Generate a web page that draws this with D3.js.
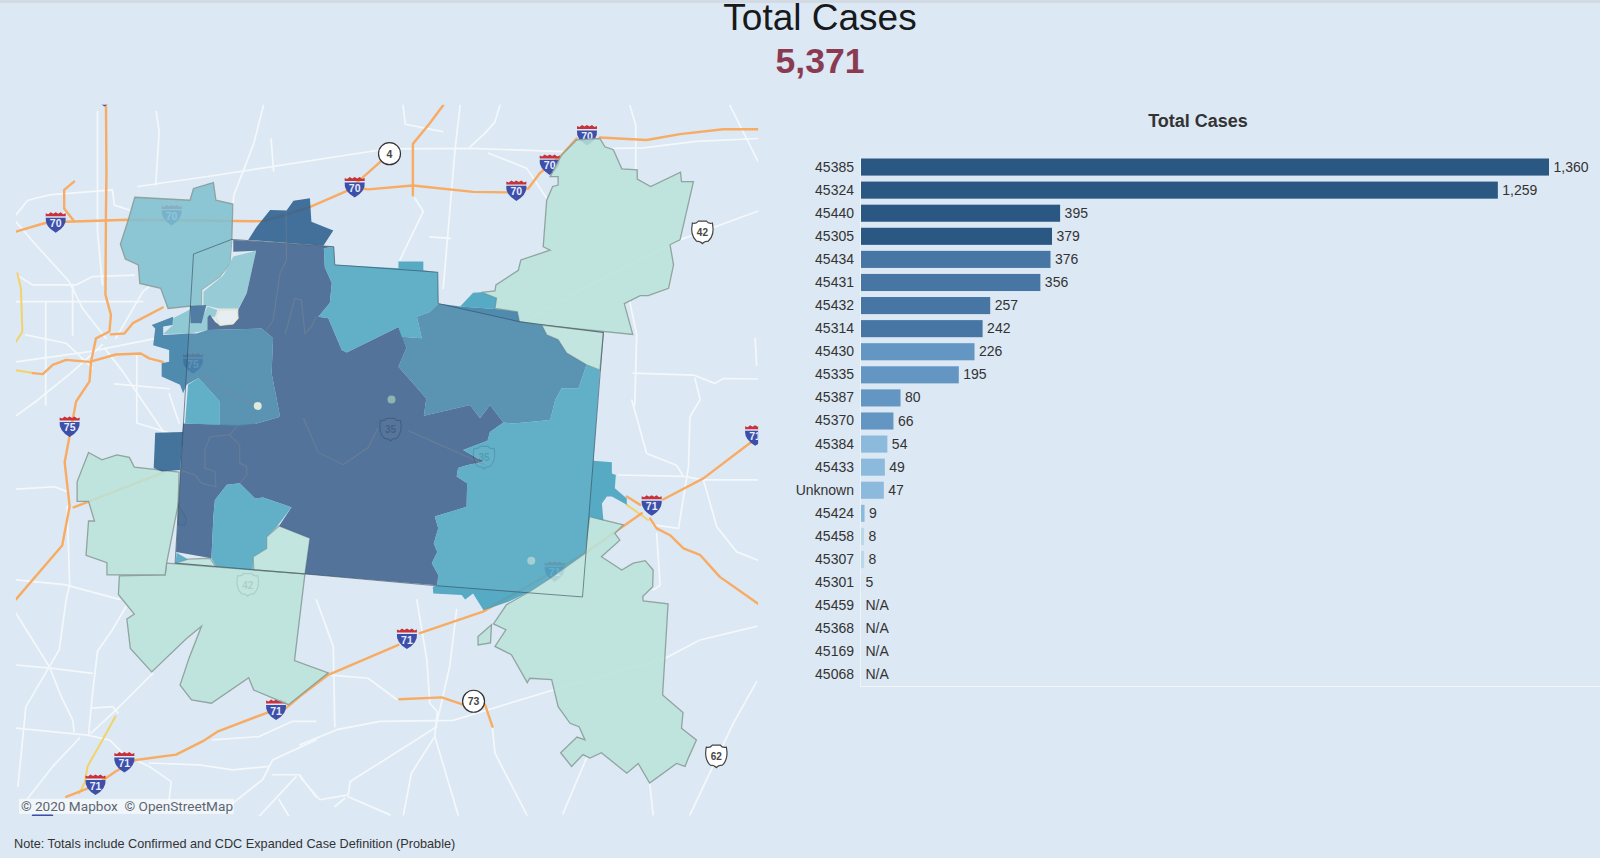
<!DOCTYPE html>
<html><head><meta charset="utf-8">
<script src="https://cdn.jsdelivr.net/npm/d3@7"></script>
<style>
html,body{margin:0;padding:0;background:#dce8f3;overflow:hidden}
svg{display:block}
text{font-family:"Liberation Sans",Arial,sans-serif}
</style></head><body>
<svg id="c" width="1600" height="858"></svg>
<script>
// ---- bar chart data ----
const zipCodes=["45385","45324","45440","45305","45434","45431","45432","45314","45430","45335","45387","45370","45384","45433","Unknown","45424","45458","45307","45301","45459","45368","45169","45068"];
const totalCases=[1360,1259,395,379,376,356,257,242,226,195,80,66,54,49,47,9,8,8,5,null,null,null,null];
const colourBand=[0,0,0,0,1,1,1,1,2,2,2,2,3,3,3,3,4,4,5,5,5,5,5];
const bandColours=["#2b5883","#4776a5","#6496c3","#8bbadd","#bbd8eb","#d5e6f1"];
const headline="Total Cases";
const headlineValue="5,371";
const barTitle="Total Cases";
const note="Note: Totals include Confirmed and CDC Expanded Case Definition (Probable)";
const attribution="© 2020 Mapbox  © OpenStreetMap";

// ---- map data, in map units ----
const zoneColours={mint:"#b9e2d9",light:"#81bfcf",light2:"#85c3ce",teal:"#44a0bc",mid:"#3b7da4",deep:"#325785",top:"#2d5f8d",west:"#2f628f"};
const zones=[
 ["mint",[[1129,133],[1159,102],[1206,99],[1216,116],[1233,122],[1250,161],[1281,163],[1281,182],[1308,197],[1368,168],[1370,187],[1394,187],[1367,306],[1347,316],[1354,357],[1344,405],[1303,420],[1287,420],[1255,436],[1272,499],[1089,480],[1044,473],[1040,453],[995,446],[998,425],[968,413],[995,410],[997,398],[1042,368],[1047,347],[1106,327],[1092,320],[1099,225],[1111,197],[1122,194],[1122,177],[1106,177],[1122,146]]],
 ["mint",[[1089,480],[1213,495],[1206,572],[1179,561],[1139,537],[1122,510],[1099,500]]],
 ["mint",[[1018,1051],[1065,1024],[1106,997],[1176,946],[1185,871],[1253,888],[1236,905],[1246,919],[1209,953],[1250,980],[1273,966],[1297,961],[1313,980],[1312,1014],[1292,1034],[1293,1043],[1343,1049],[1332,1235],[1373,1271],[1370,1303],[1400,1327],[1385,1361],[1377,1381],[1360,1375],[1306,1415],[1283,1375],[1260,1395],[1209,1353],[1186,1364],[1172,1357],[1149,1381],[1127,1353],[1160,1321],[1176,1327],[1164,1300],[1146,1293],[1122,1259],[1109,1204],[1065,1201],[1060,1210],[1028,1153],[995,1136],[1017,1102],[992,1090]]],
 ["mint",[[988,1092],[986,1129],[961,1133],[961,1116]]],
 ["mint",[[335,966],[613,988],[592,1165],[660,1190],[580,1255],[510,1225],[500,1200],[425,1252],[385,1245],[362,1215],[380,1160],[405,1095],[375,1120],[305,1188],[262,1140],[255,1080],[270,1070],[238,1030],[240,992],[332,990]]],
 ["mint",[[178,740],[205,755],[235,745],[260,750],[270,770],[360,780],[358,847],[335,966],[332,990],[215,990],[215,965],[173,950],[178,880],[190,880],[178,840],[155,840],[155,800]]],
 ["mint",[[358,847],[375,875],[372,888],[358,888]]],
 ["mint",[[561,890],[623,915],[613,988],[510,980],[509,953],[536,936],[536,912]]],
 ["mint",[[378,958],[422,956],[434,973],[353,966]]],
 ["light",[[271,219],[382,225],[389,201],[429,189],[434,225],[468,233],[466,305],[462,354],[442,381],[405,408],[405,439],[338,446],[323,405],[281,395],[278,357],[252,345],[242,315],[258,265]]],
 ["light2",[[389,335],[466,305],[462,354],[442,381],[405,408],[405,439],[385,441]]],
 ["light2",[[469,340],[515,328],[496,415],[479,446],[439,446],[409,439],[409,412],[449,378]]],
 ["light2",[[328,498],[348,480],[348,466],[382,448],[383,476],[402,476],[417,442],[437,449],[432,463],[417,463],[417,490],[382,497]]],
 ["top",[[499,306],[516,279],[543,245],[576,246],[590,226],[623,221],[626,269],[670,287],[650,318]]],
 ["deep",[[469,306],[671,320],[651,323],[653,362],[667,394],[663,435],[640,463],[660,466],[687,531],[697,536],[801,484],[817,527],[801,565],[857,630],[852,665],[945,643],[965,670],[985,643],[1012,679],[985,698],[980,716],[931,735],[972,759],[938,766],[921,772],[918,789],[939,803],[938,851],[874,871],[881,895],[872,926],[879,943],[868,966],[881,990],[879,1011],[613,988],[623,915],[561,890],[586,852],[529,832],[513,834],[482,803],[456,806],[432,837],[429,871],[425,956],[354,943],[368,681],[479,684],[516,681],[563,667],[546,578],[549,507],[526,487],[417,490],[417,464],[422,459],[432,473],[442,481],[469,478],[479,466],[479,448],[496,415],[515,328],[469,330]]],
 ["west",[[312,700],[368,698],[362,776],[325,779],[309,772]]],
 ["west",[[382,441],[415,439],[405,476],[383,476]]],
 ["mid",[[881,436],[925,442],[995,447],[1040,453],[1044,473],[1089,480],[1099,500],[1122,510],[1139,537],[1179,561],[1163,609],[1129,609],[1116,633],[1106,674],[1032,681],[1012,679],[985,643],[965,670],[945,643],[852,665],[857,630],[801,565],[817,527],[807,504],[848,507],[838,463],[864,453]]],
 ["mid",[[305,480],[348,463],[347,480],[328,483],[328,500],[382,497],[395,497],[417,490],[526,487],[549,507],[546,578],[563,667],[516,681],[479,687],[442,684],[442,636],[399,588],[375,602],[368,619],[362,602],[325,585],[325,558],[340,555],[340,531],[308,521],[312,487]]],
 ["teal",[[651,323],[671,320],[673,357],[801,364],[801,350],[851,350],[851,368],[880,372],[881,436],[864,453],[838,463],[848,507],[807,504],[801,484],[697,536],[687,531],[660,466],[640,463],[663,435],[667,394],[653,362]]],
 ["teal",[[1032,681],[1106,674],[1116,633],[1129,609],[1163,609],[1179,561],[1206,572],[1193,757],[1230,760],[1230,783],[1238,786],[1236,813],[1260,834],[1260,847],[1230,830],[1220,830],[1210,844],[1213,879],[1185,871],[1176,946],[1106,997],[1065,1024],[1022,1045],[972,1062],[951,1028],[935,1040],[928,1031],[871,1028],[870,1014],[879,1011],[881,990],[868,966],[879,943],[872,926],[881,895],[874,871],[938,851],[939,803],[918,789],[921,772],[938,766],[972,759],[931,735],[980,716],[985,698],[1012,679]]],
 ["teal",[[951,414],[968,413],[998,425],[995,447],[925,442]]],
 ["teal",[[432,837],[456,806],[482,803],[513,834],[529,832],[586,852],[556,892],[536,912],[536,936],[509,953],[508,980],[435,973],[425,956],[429,871]]],
 ["teal",[[399,588],[442,636],[442,684],[372,681],[378,602]]],
 ["teal",[[355,945],[378,958],[353,966]]]
];
const overlayRing=[[389,335],[466,305],[671,320],[673,357],[880,372],[881,436],[1044,473],[1213,495],[1171,1035],[864,1011],[613,988],[352,966]];
const holes=[[[434,463],[442,449],[476,449],[479,466],[469,478],[442,481]]];
const innerLines=[
 [[476,687],[462,704],[422,708],[412,735],[412,772],[432,779],[434,810],[405,803],[392,786],[362,776]],
 [[462,704],[482,725],[482,762],[496,769],[496,786],[482,803]],
 [[573,500],[593,425],[606,429],[613,497],[626,483],[636,463]],
 [[575,248],[576,347],[563,374],[549,470],[536,490]],
 [[405,585],[456,616],[516,645]],[[610,670],[640,740],[690,765],[740,730],[760,690]],[[820,695],[975,765]]
];
const dots=[[518,645,"#dfe9dc"],[787,632,"#8fb3ad"],[1068,961,"#a5cfd2"]];

const roadsOrange=[
 [[32,289],[89,272],[133,269],[257,265],[530,268],[620,240],[700,205],[783,130]],
 [[1524,80],[1454,80],[1367,90],[1300,102],[1206,97]],
 [[1159,99],[1129,133],[1085,170],[1062,201],[1018,209],[951,208],[830,195],[740,203],[700,198]],
 [[891,31],[864,68],[830,110],[830,215]],
 [[213,31],[214,167],[213,248],[212,418],[223,459],[220,493],[193,507],[183,555],[180,595],[153,636],[130,760],[140,850],[125,930],[32,1040]],
 [[223,499],[250,497],[267,476],[327,444]],
 [[66,578],[86,580],[106,561],[133,551],[180,555],[233,540],[283,538],[300,548],[327,555]],
 [[149,187],[129,204],[129,242],[149,268]],
 [[1511,718],[1414,793],[1333,836]],[[1260,830],[1287,847]],
 [[1290,864],[1176,946],[971,1065],[844,1109]],[[801,1133],[660,1194],[603,1238],[575,1262],[535,1272],[437,1310],[407,1330],[354,1357],[273,1368],[233,1391],[193,1419],[133,1443]],
 [[1307,875],[1320,895],[1347,909],[1374,936],[1407,949],[1447,994],[1524,1049]],
 [[803,1244],[888,1240],[931,1255]],[[975,1255],[990,1300]],
 [[148,852],[230,820],[330,780]]
];
const roadsYellow=[[[35,374],[42,405],[45,493],[32,514]],[[32,572],[66,578]],[[232,1279],[206,1327],[176,1381],[170,1415],[159,1436]],[[1260,847],[1303,878]]];
const roadsWhite=[
 [[32,255],[56,225],[99,214],[226,204],[230,235],[260,245]],[[277,197],[434,174],[780,120],[945,119],[1132,126]],
 [[1233,119],[1293,118],[1400,105],[1524,99]],[[945,116],[975,88],[995,65],[1005,31]],[[982,129],[1059,160],[1099,221]],
 [[925,31],[915,119],[891,405]],[[864,300],[905,303]],[[1266,31],[1278,71],[1278,163]],[[1467,31],[1524,146]],[[1524,247],[1367,306]],
 [[1266,432],[1280,500],[1276,643]],[[1273,578],[1394,582],[1437,599],[1454,589],[1524,590]],[[1397,589],[1407,630]],[[1518,507],[1521,562]],
 [[1270,633],[1300,742],[1360,766],[1374,789],[1414,796],[1524,796]],[[1243,786],[1374,789]],[[1407,633],[1387,667],[1384,769],[1364,895]],
 [[1414,796],[1441,892],[1481,943],[1524,960]],[[1320,905],[1327,1011],[1313,1021]],[[1313,888],[1364,895]],
 [[660,1194],[740,1201],[797,1244]],[[838,1041],[858,1163],[864,1252],[879,1269],[874,1320],[827,1395],[811,1480]],[[918,1061],[904,1177],[878,1293]],
 [[636,1041],[670,1136],[673,1300]],[[603,1337],[677,1306],[764,1289],[911,1287],[1112,1225],[1337,1160],[1407,1123],[1521,1095]],
 [[1521,1208],[1474,1293],[1387,1480]],[[990,1303],[995,1354],[1059,1480]],[[874,1320],[921,1480]],[[878,1300],[704,1412],[700,1439],[643,1449],[603,1402]],
 [[700,1443],[784,1480]],[[673,1463],[693,1446]],[[1179,1364],[1132,1477]],[[1306,1415],[1313,1480]],
 [[1367,306],[1200,390],[1060,470]],[[834,221],[851,248],[804,347]],[[530,30],[510,110],[470,215],[465,270]],[[545,100],[550,165]],[[810,30],[815,70],[890,85]],
 [[32,269],[72,316],[139,391],[166,446],[213,507]],[[39,381],[66,398],[153,398],[186,381],[270,378]],[[32,432],[287,432]],[[92,432],[92,643]],[[146,398],[146,500]],
 [[196,44],[196,289],[206,398]],[[314,44],[320,85],[313,194]],[[52,500],[133,517],[186,568]],[[32,555],[180,534],[313,507]],
 [[210,527],[247,575],[287,636],[330,700]],[[72,636],[146,575],[206,520]],[[233,507],[287,412],[327,378]],[[32,665],[72,636]],
 [[275,540],[275,680],[340,700]],[[230,600],[340,610]],[[340,620],[360,680]],[[32,815],[110,810],[135,820]],
 [[32,1000],[130,1010],[240,1040]],[[135,850],[140,1010],[133,1041],[119,1143],[52,1259],[36,1422]],
 [[253,1055],[226,1102],[196,1146],[186,1232],[178,1317]],[[307,1191],[233,1266],[183,1313]],[[32,1303],[176,1317],[220,1327],[247,1354]],
 [[32,1174],[106,1181],[186,1191]],[[32,1068],[99,1177],[123,1238],[146,1286],[149,1310]],[[186,1262],[227,1259],[237,1272]],[[160,1323],[106,1381],[56,1446]],
 [[273,1368],[300,1381],[344,1412],[340,1449]],[[300,1374],[401,1378],[468,1388],[541,1381]],[[635,1327],[548,1368],[528,1408],[468,1456]],
 [[427,1327],[521,1320],[588,1289],[635,1289]],[[548,1398],[602,1398],[635,1443]],[[595,1402],[521,1483]],[[561,1449],[581,1483]]
];
const blueFragment=[[[66,1481],[105,1481]]];
const interstates=[[112,270,"70"],[345,255,"70"],[713,198,"70"],[1038,205,"70"],[1105,152,"70"],[1180,92,"70"],[140,687,"75"],[388,558,"75"],[1310,848,"71"],[818,1120,"71"],[555,1265,"71"],[250,1372,"71"],[192,1418,"71"],[1518,705,"71"],[210,12,"70"],[1115,983,"71"]];
const usRoutes=[[1412,290,"42"],[498,1010,"42"],[1440,1360,"62"],[785,693,"35"],[973,750,"35"]];
const stateRoutes=[[783,130,"4"],[952,1248,"73"]];

const svg=d3.select("#c");
svg.append("rect").attr("width",1600).attr("height",3).attr("fill","#d2dbe3");

// titles
const centre=820;
svg.append("text").attr("x",centre).attr("y",30).attr("text-anchor","middle").attr("font-size",37).attr("fill","#17191c").text(headline);
svg.append("text").attr("x",centre).attr("y",73).attr("text-anchor","middle").attr("font-size",35.5).attr("font-weight",700).attr("fill","#8a3b52").text(headlineValue);
svg.append("text").attr("x",1198).attr("y",127).attr("text-anchor","middle").attr("font-size",18).attr("font-weight",700).attr("fill","#333").text(barTitle);
svg.append("text").attr("x",14).attr("y",848).attr("font-size",12.7).attr("fill","#333").text(note);

// ---- map ----
const mx=d3.scaleLinear().domain([0,1568]).range([0,780]);
const my=d3.scaleLinear().domain([0,1568]).range([90,858]);
const line=d3.line().x(d=>mx(d[0])).y(d=>my(d[1]));
const ring=d=>line(d)+"Z";
svg.append("clipPath").attr("id","mapclip").append("rect").attr("x",mx(32)).attr("y",my(30)).attr("width",mx(1524)-mx(32)).attr("height",my(1482)-my(30));
const map=svg.append("g").attr("clip-path","url(#mapclip)");
const drawRoads=(rows,col,w)=>map.append("g").selectAll("path").data(rows).join("path").attr("d",line).attr("fill","none").attr("stroke",col).attr("stroke-width",w).attr("stroke-linejoin","round").attr("stroke-linecap","round");
drawRoads(roadsWhite,"#f4f8fb",1.7);
drawRoads(roadsYellow,"#f2d26a",2);
drawRoads(roadsOrange,"#f8ab63",2.4);
drawRoads(blueFragment,"#3d4fa8",2);

function shield(g,[x,y,t]){
 const a=g.append("g").attr("transform",`translate(${mx(x)},${my(y)})`);
 a.append("path").attr("d","M-10,-6L-10,-9L-7.5,-8L-5,-10L-2.5,-8.5L0,-10L2.5,-8.5L5,-10L7.5,-8L10,-9L10,-6Z").attr("fill","#c9323a");
 a.append("path").attr("d","M-10,-4.6L10,-4.6Q11,4 0,10.5Q-11,4 -10,-4.6Z").attr("fill","#3d4fa8");
 a.append("text").attr("y",5).attr("text-anchor","middle").attr("font-size",10.5).attr("font-weight",700).attr("fill","#e8ecff").text(t);
}
function usShield(g,[x,y,t]){
 const a=g.append("g").attr("transform",`translate(${mx(x)},${my(y)})`);
 a.append("path").attr("d","M-10,-9Q-6,-8 -4,-11L4,-11Q6,-8 10,-9Q12.5,3 6,9Q2,9 0,11.5Q-2,9 -6,9Q-12.5,3 -10,-9Z").attr("fill","#fff").attr("stroke","#444").attr("stroke-width",1.2);
 a.append("text").attr("y",4).attr("text-anchor","middle").attr("font-size",10).attr("font-weight",700).attr("fill","#444").text(t);
}
function circleRoute(g,[x,y,t]){
 const a=g.append("g").attr("transform",`translate(${mx(x)},${my(y)})`);
 a.append("circle").attr("r",11).attr("fill","#fff").attr("stroke","#333").attr("stroke-width",1.2);
 a.append("text").attr("y",4).attr("text-anchor","middle").attr("font-size",10.5).attr("font-weight",700).attr("fill","#444").text(t);
}
const markers=map.append("g");
interstates.forEach(d=>shield(markers,d));
usRoutes.forEach(d=>usShield(markers,d));
stateRoutes.forEach(d=>circleRoute(markers,d));

// choropleth
const zoneG=map.append("g");
zoneG.selectAll("path.zone").data(zones).join("path").attr("class","zone").attr("d",d=>ring(d[1])).attr("fill",d=>zoneColours[d[0]]).attr("fill-opacity",.88)
 .attr("stroke",d=>d[0]==="mint"||d[0]==="light"?"#8a9c98":"none").attr("stroke-width",1.3).attr("stroke-opacity",.9);
zoneG.selectAll("path.hole").data(holes).join("path").attr("class","hole").attr("d",ring).attr("fill","#e6edf2").attr("stroke","#e8dca8").attr("stroke-width",.8);
zoneG.selectAll("path.inner").data(innerLines).join("path").attr("class","inner").attr("d",line).attr("fill","none").attr("stroke","#75808c").attr("stroke-opacity",.5).attr("stroke-width",1.1);
zoneG.append("path").attr("d",ring(overlayRing)).attr("fill","#ffffff").attr("fill-opacity",.07).attr("stroke","#34495c").attr("stroke-opacity",.6).attr("stroke-width",1);
zoneG.selectAll("circle").data(dots).join("circle").attr("cx",d=>mx(d[0])).attr("cy",d=>my(d[1])).attr("r",4).attr("fill",d=>d[2]);

// attribution
map.append("rect").attr("x",mx(38)).attr("y",my(1447)).attr("width",mx(470)-mx(38)).attr("height",my(1478)-my(1447)).attr("fill","#fff").attr("fill-opacity",.6);
map.append("text").attr("x",mx(42)).attr("y",my(1472)).attr("font-size",13.6).attr("fill","#5c6670").style("font-family","Roboto,sans-serif").style("white-space","pre").text(attribution);

// ---- bars ----
const x=d3.scaleLinear().domain([0,1360]).range([860,1549]);
const y=d3.scaleBand().domain(zipCodes).range([155.5,686.5]).paddingInner(.26).paddingOuter(.13);
const rows=zipCodes.map((z,i)=>({z,v:totalCases[i],c:bandColours[colourBand[i]]}));
const bars=svg.append("g");
bars.selectAll("rect").data(rows.filter(d=>d.v!==null)).join("rect")
 .attr("x",x(0)+.5).attr("y",d=>y(d.z)).attr("width",d=>x(d.v)-x(0)-.5).attr("height",y.bandwidth()).attr("fill",d=>d.c);
bars.selectAll("text").data(rows).join("text")
 .attr("x",d=>d.v===null?x(0)+5.5:x(d.v)+(d.v<=5?3:4.5)).attr("y",d=>y(d.z)+y.bandwidth()/2+4.5)
 .attr("font-size",14).attr("fill","#333").text(d=>d.v===null?"N/A":d3.format(",")(d.v));
const axis=svg.append("g").attr("transform","translate(860,0)").call(d3.axisLeft(y).tickSize(0).tickPadding(6));
axis.selectAll("text").attr("font-size",14).attr("fill","#333").style("font-family",'"Liberation Sans",Arial,sans-serif');
axis.select(".domain").attr("stroke","#eef3f8").attr("stroke-width",1);
svg.append("line").attr("x1",860).attr("x2",1600).attr("y1",686.5).attr("y2",686.5).attr("stroke","#f2f6fa").attr("stroke-width",1);
</script>
</body></html>
